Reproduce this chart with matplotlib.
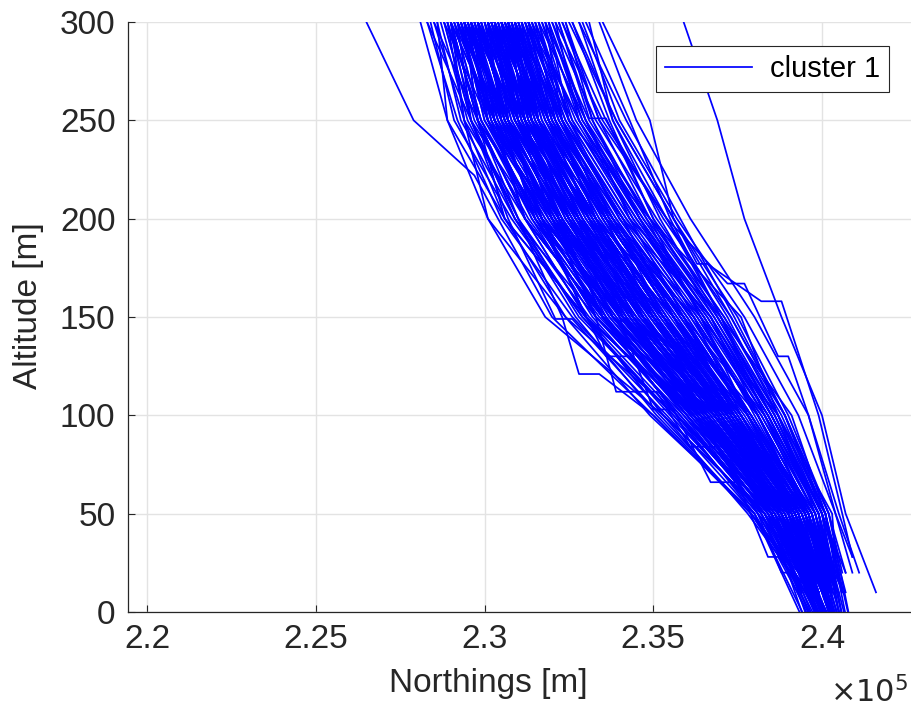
import matplotlib.pyplot as plt

plt.rcParams['font.family'] = ['Liberation Sans', 'DejaVu Sans']

# altitude levels shared by the plain tracks (m); last point of each track uses end_alt
alt_levels = [300, 250, 200, 150, 100, 50]

# northings (km) of each plain track at alt_levels, then at its end altitude
tracks = [
    [228.1, 228.9, 230.1, 231.8, 235.3, 237.8, 239.3],
    [228.5, 229.4, 230.1, 232.4, 234.9, 238.0, 239.4],
    [228.6, 228.9, 230.6, 233.0, 235.3, 238.3, 239.6],
    [229.0, 229.8, 230.6, 232.4, 235.7, 238.0, 239.7],
    [228.9, 229.4, 231.2, 233.5, 235.7, 238.3, 239.4],
    [229.1, 230.3, 231.7, 233.0, 236.2, 238.5, 239.3],
    [229.4, 229.8, 231.2, 233.0, 235.3, 238.3, 240.1],
    [229.3, 230.3, 232.2, 234.1, 236.2, 238.3, 239.7],
    [229.5, 230.7, 231.7, 233.5, 236.6, 238.8, 239.7],
    [229.4, 230.2, 231.2, 233.5, 236.2, 238.5, 240.2],
    [229.8, 230.3, 231.7, 234.1, 237.0, 238.8, 239.9],
    [229.9, 230.7, 232.8, 234.7, 236.6, 239.1, 239.9],
    [229.8, 231.2, 232.2, 233.5, 236.2, 238.8, 240.1],
    [229.7, 230.6, 232.3, 234.1, 236.6, 238.5, 239.9],
    [230.3, 230.7, 232.2, 234.7, 237.0, 239.1, 239.8],
    [230.2, 231.2, 233.3, 235.3, 237.0, 238.8, 240.4],
    [230.3, 231.6, 232.8, 234.1, 236.6, 239.1, 240.2],
    [230.4, 231.2, 232.8, 234.7, 237.4, 239.3, 239.7],
    [230.7, 231.2, 232.2, 234.1, 237.0, 239.1, 240.1],
    [230.7, 231.6, 233.3, 235.9, 237.4, 239.3, 240.5],
    [230.6, 232.1, 233.8, 235.3, 237.4, 239.6, 240.3],
    [230.8, 231.6, 232.8, 234.7, 236.6, 238.8, 239.7],
    [231.1, 232.1, 233.3, 235.3, 237.8, 239.6, 240.2],
    [231.1, 231.6, 233.8, 236.4, 237.8, 239.3, 240.6],
    [231.2, 232.5, 234.3, 235.9, 238.3, 239.8, 240.3],
    [231.5, 232.1, 233.8, 235.9, 237.4, 239.6, 240.2],
    [231.5, 232.5, 234.9, 236.4, 238.3, 239.6, 240.7],
    [231.6, 233.0, 234.3, 237.0, 238.7, 239.8, 240.4],
    [232.0, 233.0, 234.9, 237.0, 238.3, 240.1, 240.4],
    [231.9, 232.5, 234.3, 236.4, 238.7, 240.1, 240.9],
    [232.4, 233.4, 235.4, 237.0, 239.1, 240.1, 240.7],
    [232.3, 233.4, 234.9, 237.6, 238.7, 240.3, 240.4],
    [229.0, 229.8, 231.7, 234.1, 236.6, 238.5, 239.8],
    [229.4, 230.7, 232.2, 234.7, 237.0, 238.8, 240.2],
    [229.8, 230.3, 232.2, 233.5, 235.7, 238.5, 239.7],
    [230.3, 230.7, 231.7, 233.5, 236.2, 238.5, 239.7],
    [229.4, 230.3, 231.7, 233.5, 236.2, 238.8, 240.4],
    [229.8, 230.7, 231.7, 233.0, 235.7, 238.3, 239.7],
    [230.3, 231.2, 232.2, 234.1, 236.2, 238.8, 239.7],
    [229.0, 230.3, 231.2, 233.0, 236.2, 238.3, 240.1],
    [230.7, 231.2, 232.8, 235.3, 237.4, 239.1, 240.1],
    [230.3, 231.6, 233.3, 234.7, 237.0, 239.3, 240.5],
    [229.8, 231.2, 232.8, 235.3, 237.8, 239.3, 240.2],
    [229.4, 230.7, 232.8, 234.7, 237.0, 239.1, 240.0],
    [230.7, 231.6, 233.3, 235.3, 237.0, 239.1, 239.9],
    [230.3, 231.2, 232.8, 234.1, 236.6, 238.8, 240.4],
    [231.1, 231.6, 233.3, 234.7, 237.0, 239.1, 240.2],
    [229.8, 230.7, 232.2, 234.7, 237.4, 239.6, 240.1],
    [228.5, 229.8, 231.2, 233.5, 235.7, 238.5, 239.7],
    [229.0, 229.4, 230.6, 233.0, 236.2, 238.5, 240.1],
    [229.4, 229.8, 231.7, 234.1, 236.6, 238.8, 239.9],
    [229.8, 230.7, 232.2, 233.5, 236.2, 238.5, 239.7],
    [230.3, 231.2, 232.8, 234.7, 237.0, 239.1, 240.1],
    [230.7, 231.6, 233.8, 235.9, 237.8, 239.6, 240.6],
    [229.4, 230.3, 231.7, 234.1, 236.6, 239.1, 240.1],
    [229.8, 230.3, 231.7, 233.5, 236.6, 238.8, 239.7],
    [230.3, 230.7, 232.8, 235.3, 237.4, 239.3, 240.5],
    [230.7, 232.1, 233.3, 235.3, 237.4, 239.3, 240.2],
    [229.0, 229.8, 231.2, 233.5, 236.2, 238.8, 239.8],
    [229.4, 230.7, 232.2, 234.1, 237.0, 239.1, 240.5],
    [229.8, 231.2, 232.8, 234.7, 237.4, 239.3, 240.1],
    [230.3, 231.6, 233.3, 235.9, 237.8, 239.3, 239.8],
    [231.1, 232.1, 233.8, 235.9, 237.8, 239.8, 240.3],
    [229.4, 230.3, 232.2, 234.1, 236.6, 238.5, 240.1],
    [229.8, 230.7, 232.8, 234.1, 237.0, 239.1, 239.9],
    [230.3, 231.2, 232.2, 234.7, 236.6, 238.8, 239.8],
    [230.7, 231.2, 233.3, 235.3, 237.4, 239.6, 240.3],
    [229.0, 230.3, 231.7, 233.5, 235.7, 238.3, 240.0],
    [229.8, 230.7, 232.2, 234.1, 236.6, 238.8, 239.7],
    [230.3, 231.2, 232.8, 235.3, 237.4, 239.3, 240.2],
    [232.9, 234.0, 235.7, 237.7, 239.3, 240.4, 240.9],
    [233.4, 234.5, 236.1, 238.0, 239.6, 240.5, 241.1],
    [232.6, 233.9, 235.6, 237.3, 238.9, 240.1, 240.6],
    [233.1, 233.8, 235.2, 236.9, 238.6, 239.9, 240.8],
    [235.9, 236.9, 237.7, 238.8, 240.0, 240.7, 241.6],
    [229.2, 230.1, 232.0, 233.8, 236.0, 238.4, 239.7],
    [229.6, 230.5, 231.5, 233.3, 236.4, 238.7, 239.8],
    [230.1, 231.0, 232.5, 233.8, 236.4, 238.7, 240.2],
    [230.5, 231.4, 233.1, 235.0, 236.8, 239.0, 239.8],
    [230.9, 231.9, 233.1, 235.0, 237.2, 239.2, 240.2],
    [231.3, 232.3, 234.1, 235.6, 237.6, 239.5, 240.5],
    [229.2, 230.5, 232.0, 234.4, 236.8, 239.0, 239.5],
    [229.6, 230.1, 231.5, 233.8, 236.8, 239.2, 240.2],
    [230.1, 231.4, 233.1, 234.4, 236.8, 239.0, 240.2],
    [230.5, 231.0, 232.5, 235.0, 237.2, 239.5, 240.2],
    [230.9, 231.4, 233.6, 236.2, 238.1, 239.5, 240.3],
    [228.8, 229.6, 231.5, 233.3, 236.0, 238.2, 239.8],
    [228.3, 229.6, 230.9, 232.7, 235.1, 237.9, 239.3],
    [231.8, 232.8, 234.6, 236.2, 238.1, 239.7, 240.4],
    [232.2, 233.2, 234.6, 236.7, 238.5, 240.0, 240.7],
    [229.6, 230.5, 232.0, 233.8, 236.4, 238.7, 239.8],
    [230.1, 230.5, 232.5, 234.4, 236.8, 239.0, 240.2],
    [230.5, 231.4, 232.5, 234.4, 236.4, 238.7, 240.1],
    [229.2, 230.1, 231.5, 233.3, 236.4, 238.7, 239.8],
    [230.9, 231.9, 233.6, 235.6, 237.6, 239.2, 240.2],
    [231.3, 231.9, 233.6, 235.0, 237.2, 239.2, 240.2],
    [230.1, 231.0, 232.0, 233.8, 236.8, 239.0, 239.9],
    [229.6, 231.0, 232.5, 235.0, 237.2, 239.2, 240.2],
    [230.5, 231.9, 233.6, 235.6, 237.2, 239.2, 240.5],
    [229.2, 229.6, 230.9, 233.3, 236.0, 238.4, 239.4],
    [228.8, 230.1, 232.0, 233.8, 236.4, 238.4, 239.8],
    [230.9, 232.3, 234.1, 236.2, 237.6, 239.5, 240.5],
    [231.3, 232.3, 233.6, 235.6, 238.1, 239.7, 240.3],
    [231.8, 232.3, 234.1, 236.7, 238.5, 240.0, 240.4],
    [230.1, 231.0, 232.5, 234.4, 237.2, 239.2, 240.4],
    [230.5, 231.4, 233.1, 234.4, 236.8, 239.2, 240.0],
    [229.6, 230.5, 232.5, 234.4, 237.2, 239.5, 240.3],
    [230.1, 231.4, 232.5, 234.4, 236.4, 239.0, 240.2],
    [230.5, 231.0, 233.1, 235.6, 237.6, 239.5, 240.3],
    [230.9, 231.9, 234.1, 235.6, 237.2, 239.0, 240.0],
    [229.2, 230.5, 231.5, 233.8, 236.4, 239.0, 240.2],
    [229.6, 230.1, 232.0, 233.3, 236.0, 238.7, 239.7],
    [230.1, 231.0, 233.1, 235.0, 237.6, 239.5, 240.3],
    [230.5, 231.4, 233.1, 235.0, 237.2, 239.2, 240.4],
    [230.9, 231.4, 233.1, 235.6, 237.6, 239.7, 240.4],
    [229.6, 230.5, 232.0, 234.4, 236.4, 238.7, 239.8],
    [230.1, 230.5, 232.0, 233.8, 236.8, 239.2, 240.4],
    [230.5, 231.9, 233.1, 235.0, 236.8, 239.0, 239.5],
    [230.9, 231.9, 233.6, 236.2, 238.1, 239.7, 240.3],
    [231.3, 232.8, 234.6, 236.7, 238.1, 239.5, 240.5],
    [229.2, 230.1, 232.0, 233.8, 236.4, 238.7, 239.8],
    [229.6, 231.0, 232.0, 233.8, 236.8, 239.0, 240.2],
    [230.1, 231.0, 232.5, 235.0, 237.2, 239.0, 240.2],
    [230.5, 231.4, 233.6, 235.6, 237.6, 239.5, 240.1],
    [230.9, 232.3, 233.6, 235.6, 237.6, 239.5, 240.2],
    [228.4, 229.1, 230.8, 232.9, 235.6, 238.1, 239.5],
    [228.7, 229.5, 231.0, 233.1, 235.9, 238.2, 239.9],
    [229.1, 229.9, 231.4, 233.2, 235.8, 238.4, 239.5],
    [229.3, 230.0, 231.9, 233.7, 236.1, 238.6, 239.9],
    [229.5, 230.4, 231.6, 233.9, 236.5, 238.6, 240.1],
    [229.7, 230.9, 232.4, 234.3, 236.5, 238.9, 239.8],
    [229.9, 230.6, 232.1, 233.6, 235.9, 238.6, 239.6],
    [230.0, 231.1, 232.6, 234.5, 236.9, 239.0, 240.3],
    [230.2, 230.9, 232.7, 234.2, 236.3, 238.9, 239.8],
    [230.4, 231.5, 232.9, 234.9, 237.1, 239.2, 240.0],
    [230.6, 231.3, 232.7, 234.6, 237.3, 239.3, 240.4],
    [230.8, 231.8, 233.5, 235.4, 237.5, 239.4, 240.1],
    [231.0, 231.7, 233.2, 235.1, 237.1, 239.2, 239.9],
    [231.2, 232.2, 233.9, 235.8, 237.9, 239.6, 240.6],
    [231.4, 232.4, 234.0, 236.1, 237.9, 239.7, 240.2],
    [231.7, 232.6, 234.5, 236.6, 238.4, 239.9, 240.4],
    [228.9, 229.7, 231.3, 233.4, 236.3, 238.6, 239.7],
    [229.2, 230.2, 231.8, 234.0, 236.7, 238.9, 240.2],
    [229.6, 230.2, 231.9, 233.9, 236.2, 238.5, 239.6],
    [229.8, 230.8, 232.6, 234.6, 236.9, 239.0, 239.9],
    [230.1, 230.8, 232.3, 234.3, 236.7, 238.9, 240.3],
    [230.3, 231.3, 233.2, 235.2, 237.3, 239.2, 240.0],
    [230.5, 231.1, 232.4, 234.4, 236.8, 239.0, 239.9],
    [230.7, 231.7, 233.4, 235.5, 237.6, 239.5, 240.5],
    [230.9, 231.6, 233.0, 234.9, 237.0, 239.1, 239.9],
    [231.1, 232.0, 233.6, 235.6, 237.7, 239.5, 240.2],
    [231.3, 232.0, 233.5, 235.3, 237.5, 239.4, 240.4],
    [229.4, 230.6, 232.3, 234.3, 236.4, 238.6, 239.7],
    [229.7, 230.5, 232.0, 234.0, 236.6, 238.9, 239.8],
    [230.0, 230.6, 231.9, 233.8, 236.4, 238.7, 240.0],
    [230.2, 231.2, 232.9, 234.8, 236.9, 239.1, 239.9],
    [230.4, 231.0, 232.5, 234.5, 237.1, 239.3, 240.1],
    [230.6, 231.6, 233.1, 235.0, 237.2, 239.3, 240.4],
    [230.8, 231.5, 233.3, 235.3, 237.4, 239.4, 240.1],
    [231.0, 232.0, 233.7, 235.7, 237.8, 239.6, 240.2],
    [228.3, 229.2, 230.5, 232.6, 235.4, 238.0, 239.6],
    [228.6, 229.3, 230.9, 232.9, 235.5, 238.2, 239.5],
    [229.0, 229.6, 231.0, 232.8, 235.6, 238.1, 239.9],
    [229.3, 230.1, 231.4, 233.6, 236.0, 238.4, 239.6],
    [229.5, 230.1, 231.8, 233.7, 236.3, 238.8, 239.8],
    [229.9, 231.0, 232.7, 234.8, 236.9, 238.9, 240.2],
    [230.1, 231.1, 232.6, 234.3, 236.5, 238.8, 239.7],
    [230.3, 231.0, 232.3, 234.0, 236.5, 238.7, 239.8],
    [230.5, 231.6, 233.3, 235.1, 237.3, 239.3, 240.4],
    [230.7, 231.4, 232.9, 235.0, 237.2, 239.2, 240.0],
    [230.9, 231.8, 233.2, 235.1, 237.3, 239.4, 240.1],
    [231.2, 231.9, 233.7, 235.7, 237.6, 239.4, 240.5],
    [231.4, 232.2, 233.7, 235.6, 237.9, 239.7, 240.3],
    [231.6, 232.3, 234.2, 236.3, 238.2, 239.8, 240.6],
    [231.9, 232.9, 234.7, 236.8, 238.6, 240.0, 240.5],
    [232.1, 232.8, 234.4, 236.5, 238.4, 239.9, 240.3],
    [229.1, 229.9, 231.6, 233.6, 236.1, 238.5, 239.7],
    [229.4, 230.3, 232.0, 234.2, 236.7, 239.0, 240.2],
    [229.9, 230.7, 232.5, 234.4, 236.8, 239.0, 239.8],
    [230.2, 231.1, 232.7, 234.7, 237.0, 239.1, 240.0],
    [230.5, 231.4, 232.9, 234.6, 236.9, 239.0, 240.3],
    [230.6, 231.5, 233.1, 235.2, 237.4, 239.4, 240.1],
    [230.8, 231.9, 233.6, 235.6, 237.5, 239.3, 240.1],
    [231.0, 231.9, 233.4, 235.4, 237.6, 239.5, 240.5],
    [229.6, 230.6, 232.3, 234.2, 236.6, 238.9, 240.0],
    [231.5, 232.7, 234.5, 236.5, 238.3, 239.8, 240.4],
    [231.8, 233.1, 234.9, 236.9, 238.6, 240.0, 240.6],
    [232.0, 233.3, 235.1, 237.1, 238.8, 240.1, 240.5],
    [232.3, 233.6, 235.3, 237.3, 238.9, 240.2, 240.7],
    [231.2, 232.4, 234.2, 236.3, 238.1, 239.7, 240.3],
    [231.0, 232.2, 234.0, 236.0, 237.9, 239.6, 240.6],
    [232.6, 233.7, 235.0, 236.8, 238.5, 240.0, 240.4],
    [231.7, 232.9, 234.8, 236.4, 238.0, 239.6, 240.2],
    [232.8, 234.2, 235.8, 237.4, 238.9, 240.2, 240.9],
    [231.3, 232.6, 234.4, 236.6, 238.4, 239.9, 240.3],
    [230.9, 232.0, 233.9, 236.0, 237.9, 239.7, 240.5],
    [232.1, 233.5, 235.4, 237.2, 238.7, 240.0, 240.5],
    [231.6, 232.5, 234.0, 236.1, 238.2, 239.8, 240.3],
    [232.4, 233.2, 234.8, 236.9, 238.7, 240.1, 240.8],
    [231.1, 232.3, 233.8, 235.8, 237.8, 239.6, 240.2],
    [233.0, 234.3, 235.5, 237.0, 238.5, 239.9, 240.4],
    [231.9, 233.0, 234.6, 236.5, 238.3, 239.9, 240.7],
    [230.8, 231.9, 233.7, 235.8, 237.8, 239.5, 240.1],
    [232.5, 233.9, 235.6, 237.5, 239.0, 240.2, 240.6],
    [231.4, 232.8, 234.7, 236.7, 238.4, 239.9, 240.6],
    [229.5, 230.5, 232.1, 234.0, 236.5, 238.8, 239.9],
    [229.8, 230.9, 232.4, 234.4, 236.9, 239.1, 240.3],
    [230.0, 230.9, 232.7, 234.9, 237.2, 239.2, 240.0],
    [230.4, 231.3, 233.0, 235.1, 237.2, 239.2, 240.4],
    [229.7, 230.4, 232.1, 234.5, 236.9, 239.0, 239.8],
    [230.6, 231.8, 233.5, 235.4, 237.3, 239.3, 240.1],
    [229.3, 230.4, 232.1, 234.2, 236.4, 238.6, 240.0],
    [230.2, 231.4, 233.2, 235.0, 237.1, 239.1, 239.9],
    [228.9, 229.9, 231.5, 233.5, 236.1, 238.5, 239.9],
    [230.8, 231.3, 232.9, 235.0, 237.3, 239.4, 240.2],
]
end_alt = [15, 10, 20, -10, 10, 28, -10, 10, 15, -10,
           10, 20, -10, 10, 15, -10, 10, 28, 10, -10,
           10, 20, 10, -10, 15, 10, -10, 10, 20, -10,
           10, 28, 10, -10, 10, 15, -10, 10, 20, -10,
           10, -10, 10, 15, 10, -10, 10, 20, 10, -10,
           10, 15, 10, -10, 10, 20, -10, 10, 15, -10,
           10, 28, 10, -10, 10, 15, 10, -10, 20, 10,
           28, 20, 10, -10, 10,
           10, 15, -10, 20, 10, -10, 28, 10, -10, 15,
           10, -10, 20, 10, -10, 15, 10, -10, 20, 10,
           -10, 15, 10, -10, 28, 10, -10, 15, 10, -10,
           20, 10, -10, 15, 10, -10, 20, 10, -10, 15,
           10, -10, 28, 10, -10, 15, 10, -10, 20, 10,
           10, -10, 15, 20, -10, 10, 15, -10, 10, 20,
           -10, 10, 15, -10, 10, 20, 10, -10, 15, 10,
           -10, 20, 10, -10, 15, 10, -10, 10, 20, -10,
           10, 15, -10, 10, 20, -10, 10, 15, -10, 10,
           -10, 10, 15, -10, 15, 10, 10, -10, 10, 20,
           10, -10, 10, 15, -10, 10, 20, -10, 15, 10,
           10, -10, 15, 20, 10, -10, 28, 10, -10, 15,
           -10, 20, 10, -10, 10, 15, -10, 10, 20, -10,
           10, -10, 15, -10, 20, 10, -10, 10, -10, 15]

# tracks with level steps (altitude, northing km)
step_alts = [
    [300, 250, 222, 200, 150, 100, 50, 15],
    [300, 250, 200, 167, 167, 130, 130, 100, 50, 20],
    [300, 250, 200, 177, 177, 158, 158, 100, 50, 28],
    [300, 250, 200, 149, 149, 100, 50, 10],
    [300, 250, 200, 150, 121, 121, 100, 50, 15],
    [300, 250, 200, 150, 112, 112, 84, 84, 50, 10],
    [300, 250, 200, 150, 103, 103, 66, 66, 28, 28, -10],
    [300, 250, 200, 150, 100, 50, 20, 20, -10],
    [300, 250, 200, 130, 130, 100, 50, 15],
    [300, 251, 251, 200, 150, 100, 50, 20],
]
step_norths = [
    [226.5, 227.9, 229.7, 230.4, 232.0, 235.0, 237.9, 239.4],
    [232.8, 233.8, 235.4, 237.2, 237.7, 238.7, 239.0, 239.6, 240.4, 240.9],
    [233.5, 234.9, 235.6, 236.3, 236.6, 238.2, 238.8, 239.9, 240.6, 240.9],
    [228.8, 229.6, 230.7, 232.1, 232.6, 235.2, 237.9, 239.4],
    [229.0, 229.8, 231.0, 232.3, 232.8, 233.4, 235.0, 237.9, 239.4],
    [229.5, 230.6, 232.0, 233.3, 233.9, 235.1, 236.1, 236.9, 238.1, 239.4],
    [230.0, 230.9, 232.5, 234.0, 235.0, 235.6, 236.7, 237.5, 238.4, 238.7, 239.9],
    [230.2, 231.0, 232.6, 234.4, 236.3, 238.1, 238.8, 239.1, 239.9],
    [229.3, 230.0, 231.6, 233.6, 234.3, 235.8, 238.2, 239.5],
    [232.2, 233.1, 233.6, 235.0, 237.1, 238.9, 240.0, 240.7],
]

x_ticks = [220000, 225000, 230000, 235000, 240000]
x_tick_labels = ['2.2', '2.25', '2.3', '2.35', '2.4']
y_ticks = [0, 50, 100, 150, 200, 250, 300]


def main():
    fig = plt.figure(figsize=(9.11, 7.10), dpi=100)
    ax = fig.add_axes([128 / 911, 98 / 710, 783 / 911, 590 / 710])

    first = True
    for north, e in zip(tracks, end_alt):
        alts = alt_levels + [e]
        ax.plot([n * 1000 for n in north], alts, color='#0000ff', lw=1.25,
                label='cluster 1' if first else None)
        first = False
    for alts, north in zip(step_alts, step_norths):
        ax.plot([n * 1000 for n in north], alts, color='#0000ff', lw=1.25)

    ax.set_xlim(219437, 242637)
    ax.set_ylim(0, 300)
    ax.set_xticks(x_ticks)
    ax.set_xticklabels(x_tick_labels)
    ax.set_yticks(y_ticks)

    dark = '#262626'
    ax.grid(True, color='#e3e3e3', lw=1.0)
    ax.set_axisbelow(True)
    for side in ['top', 'right']:
        ax.spines[side].set_visible(False)
    for side in ['left', 'bottom']:
        ax.spines[side].set_color(dark)
        ax.spines[side].set_linewidth(0.9)
    ax.tick_params(direction='in', length=5, width=0.8, colors=dark,
                   labelsize=24, pad=9)

    ax.set_xlabel('Northings [m]', fontsize=24, color=dark)
    ax.set_ylabel('Altitude [m]', fontsize=24, color=dark)
    ax.xaxis.set_label_coords(0.46, -0.095)
    ax.yaxis.set_label_coords(-0.107, 0.52)
    fig.text(830 / 911, 8 / 710, r'$\times10^5$', fontsize=22, color=dark,
             math_fontfamily='dejavusans')

    leg = ax.legend(loc='upper right', bbox_to_anchor=(0.972, 0.959),
                    borderaxespad=0, fontsize=21, frameon=True, fancybox=False,
                    handlelength=3.0, borderpad=0.31, handletextpad=0.6)
    leg.get_frame().set_edgecolor(dark)
    leg.get_frame().set_linewidth(0.8)
    leg.get_frame().set_alpha(1)

    fig.savefig('out.png', dpi=100)


if __name__ == '__main__':
    main()
